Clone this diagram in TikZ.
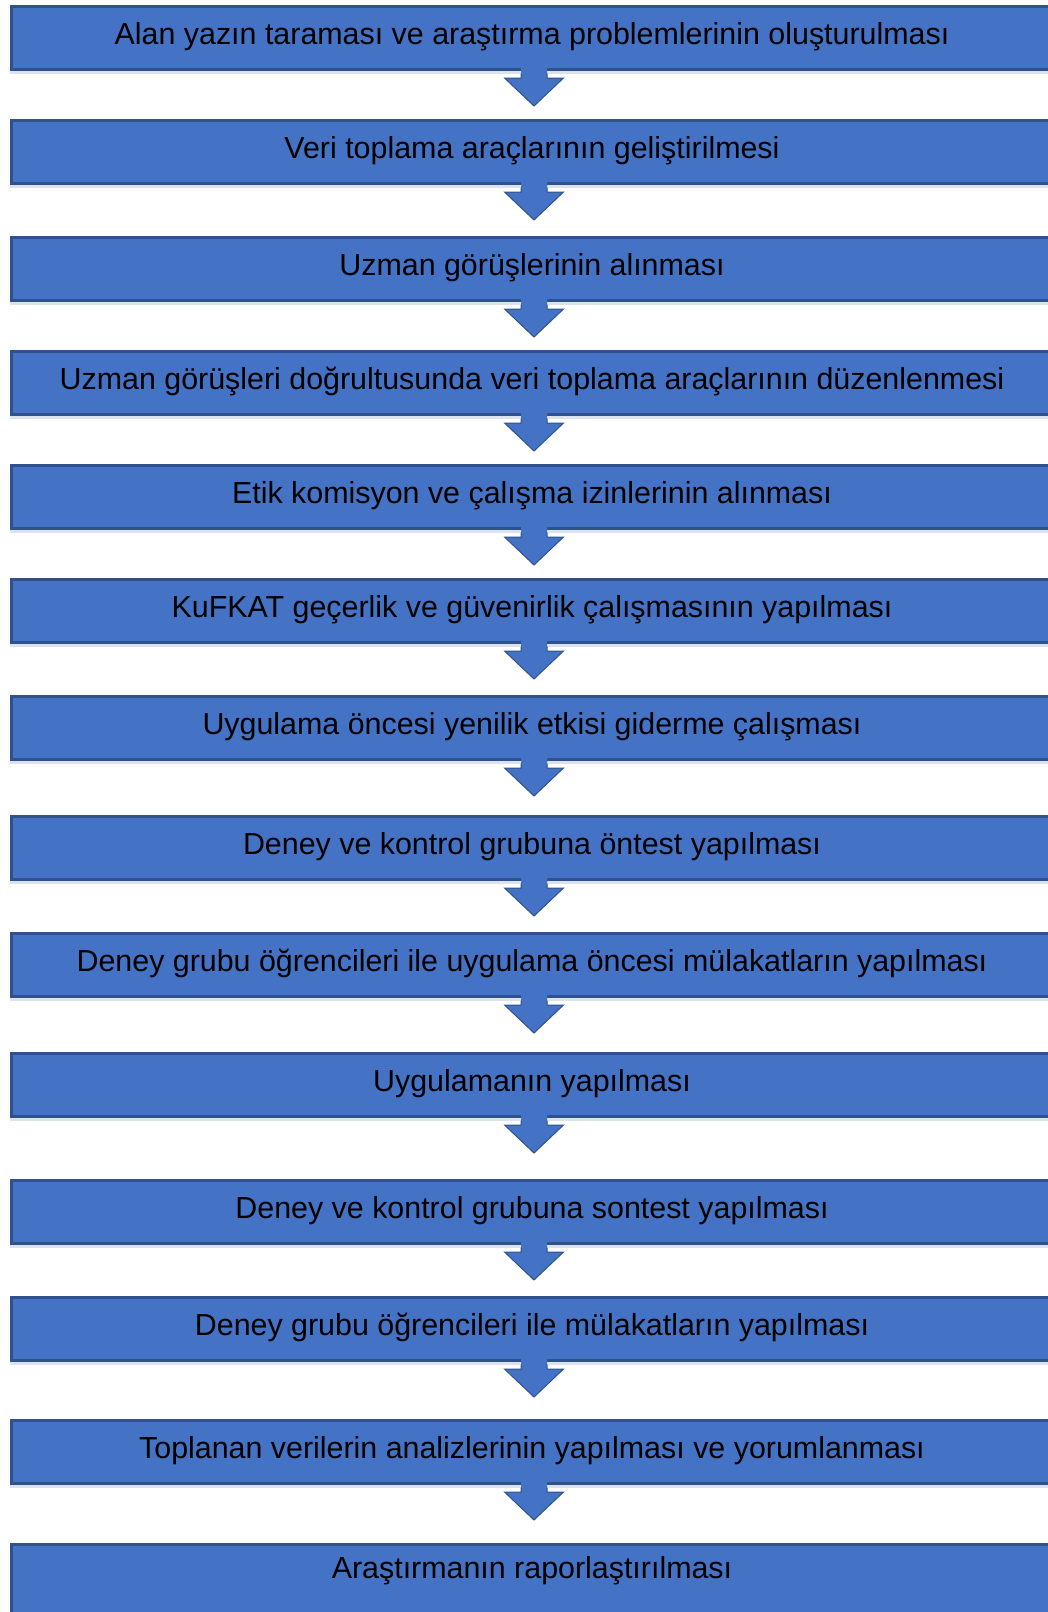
\documentclass[tikz,border=0pt]{standalone}
\usepackage{fontspec}
\setmainfont{Liberation Sans}
\usetikzlibrary{calc}
\definecolor{boxfill}{HTML}{4472C4}
\definecolor{boxline}{HTML}{2F528F}
\definecolor{shadowc}{HTML}{DDE3EE}
\tikzset{
  stepbox/.style={draw=boxline, fill=boxfill, line width=3pt, rectangle, inner sep=0pt, outer sep=0pt,
    minimum width=1045pt, minimum height=63pt, anchor=north west},
  steptext/.style={inner sep=0pt, text height=22pt, text depth=8pt, font=\fontsize{30.4pt}{34pt}\selectfont, text=black},
  arrowfill/.style={fill=boxfill},
  arrowline/.style={draw=boxline, line width=1pt, line join=miter},
}
\newcommand{\stepitem}[3]{%
  \node[stepbox] (b#1) at (11.5,#2+1.5) {};
  \fill[shadowc] ($(b#1.south west)+(-1.5,1.5)$) rectangle ++(1070,2.5);
  \node[steptext] (t#1) at ($(b#1.center)+(-2,-0.5)$) {#3};
}
\newcommand{\steparrow}[2]{%
  \fill[arrowfill] ($(b#1.south)+(-13,-4)$) -- ($(b#1.south)+(-13,8.5)$) -- ($(b#1.south)+(-29.5,8.5)$)
     -- ($(b#1.south)+(0,36.5)$) -- ($(b#1.south)+(29.5,8.5)$) -- ($(b#1.south)+(13,8.5)$) -- ($(b#1.south)+(13,-4)$) -- cycle;
  \draw[arrowline] ($(b#1.south)+(-13,4)$) -- ($(b#1.south)+(-13,8.5)$) -- ($(b#1.south)+(-29.5,8.5)$)
     -- ($(b#1.south)+(0,36.5)$) -- ($(b#1.south)+(29.5,8.5)$) -- ($(b#1.south)+(13,8.5)$) -- ($(b#1.south)+(13,4)$);
}
\begin{document}
\begin{tikzpicture}[x=1pt,y=-1pt]
\clip (0,0) rectangle (1048,1612);
\fill[white] (0,0) rectangle (1048,1612);
\stepitem{1}{5}{Alan yazın taraması ve araştırma problemlerinin oluşturulması}
\stepitem{2}{119}{Veri toplama araçlarının geliştirilmesi}
\stepitem{3}{236}{Uzman görüşlerinin alınması}
\stepitem{4}{350}{Uzman görüşleri doğrultusunda veri toplama araçlarının düzenlenmesi}
\stepitem{5}{464}{Etik komisyon ve çalışma izinlerinin alınması}
\stepitem{6}{578}{KuFKAT geçerlik ve güvenirlik çalışmasının yapılması}
\stepitem{7}{695}{Uygulama öncesi yenilik etkisi giderme çalışması}
\stepitem{8}{815}{Deney ve kontrol grubuna öntest yapılması}
\stepitem{9}{932}{Deney grubu öğrencileri ile uygulama öncesi mülakatların yapılması}
\stepitem{10}{1052}{Uygulamanın yapılması}
\stepitem{11}{1179}{Deney ve kontrol grubuna sontest yapılması}
\stepitem{12}{1296}{Deney grubu öğrencileri ile mülakatların yapılması}
\stepitem{13}{1419}{Toplanan verilerin analizlerinin yapılması ve yorumlanması}
\node[stepbox, minimum height=80pt] (b14) at (11.5,1544.5) {};
\node[steptext] (t14) at (532,1571.5) {Araştırmanın raporlaştırılması};
\foreach \i in {1,...,13}{\steparrow{\i}{}}
\end{tikzpicture}
\end{document}
